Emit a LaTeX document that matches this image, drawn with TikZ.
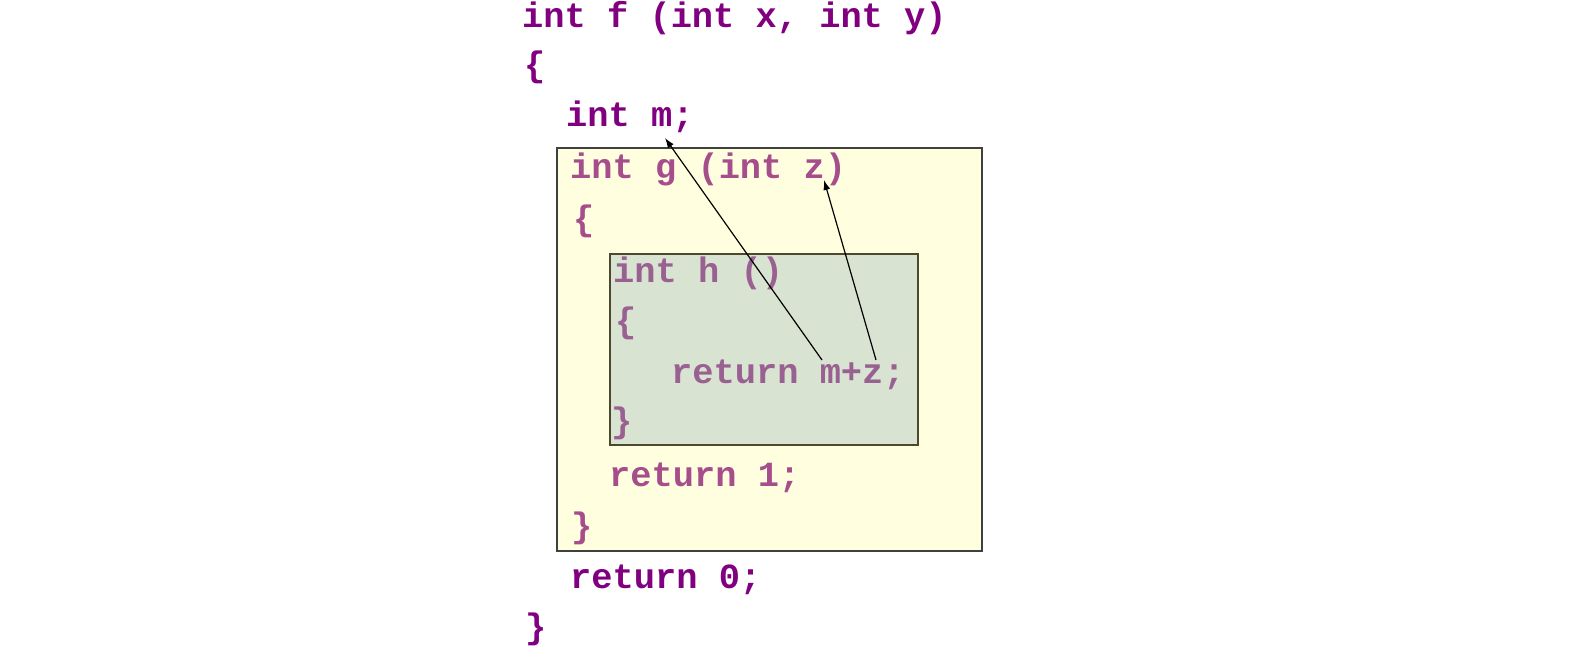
\documentclass[tikz,border=0pt]{standalone}
\usepackage{fontspec}
\setmonofont{Liberation Mono}
\usetikzlibrary{arrows.meta}

\definecolor{fcolor}{RGB}{128,0,128}
\definecolor{gcolor}{RGB}{166,77,140}
\definecolor{hcolor}{RGB}{153,96,146}
\definecolor{gfill}{RGB}{255,255,224}
\definecolor{hfill}{RGB}{217,227,209}

\tikzset{
	code/.style={anchor=base west, inner sep=0pt, font=\ttfamily\bfseries\fontsize{35.5}{42}\selectfont},
	fcode/.style={code, text=fcolor},
	gcode/.style={code, text=gcolor},
	hcode/.style={code, text=hcolor},
	gbox/.style={draw=black!75, fill=gfill, line width=1.3pt},
	hbox/.style={draw=black!60!olive, fill=hfill, line width=1.3pt},
	refarrow/.style={-{Latex[length=10pt,width=7pt]}, line width=1.2pt}
}

\begin{document}
\begin{tikzpicture}[x=1bp, y=-1bp]
	\useasboundingbox (0, 0) rectangle (1576, 654);
	% Scopes:
	\draw[gbox] (557, 148) rectangle (982, 551);
	\draw[hbox] (610, 254) rectangle (918, 445);
	% Function f:
	\node[fcode] (F1) at (522, 28) {int f (int x, int y)};
	\node[fcode] (F2) at (524, 77) {\{};
	\node[fcode] (F3) at (566, 127) {int m;};
	\node[fcode] (F4) at (570, 588) {return 0;};
	\node[fcode] (F5) at (525, 638) {\}};
	% Function g:
	\node[gcode] (G1) at (570, 178) {int g (int z)};
	\node[gcode] (G2) at (573, 230) {\{};
	\node[gcode] (G3) at (609, 486) {return 1;};
	\node[gcode] (G4) at (571, 537) {\}};
	% Function h:
	\node[hcode] (H1) at (613, 282) {int h ()};
	\node[hcode] (H2) at (615, 332) {\{};
	\node[hcode] (H3) at (671, 383) {return m+z;};
	\node[hcode] (H4) at (611, 432) {\}};
	% References:
	\coordinate (Mtail) at ([xshift=151bp, yshift=23bp]H3.base west);
	\coordinate (Ztail) at ([xshift=205bp, yshift=23bp]H3.base west);
	\coordinate (Mhead) at ([xshift=99bp, yshift=-11bp]F3.base west);
	\coordinate (Zhead) at ([xshift=254bp, yshift=-2bp]G1.base west);
	\draw[refarrow] (Mtail) -- (Mhead);
	\draw[refarrow] (Ztail) -- (Zhead);
\end{tikzpicture}
\end{document}
